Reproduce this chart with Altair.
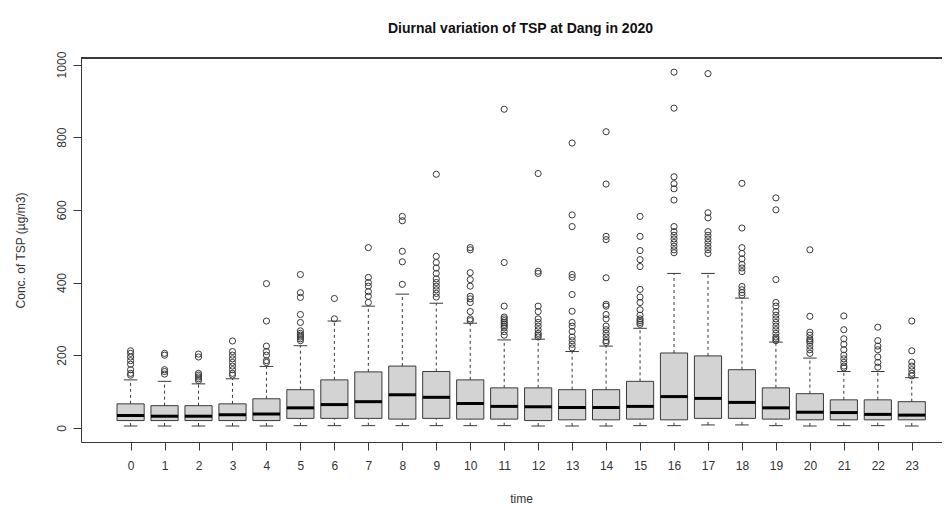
import altair as alt
import pandas as pd

hours = list(range(24))
lower = [5, 5, 5, 5, 5, 6, 6, 6, 6, 6, 6, 6, 5, 5, 5, 6, 6, 8, 8, 6, 5, 6, 6, 5]
q1 = [20, 20, 20, 20, 20, 26, 26, 26, 24, 26, 24, 24, 20, 22, 22, 24, 22, 26, 26, 24, 22, 22, 22, 22]
median = [34, 32, 32, 36, 38, 55, 64, 72, 91, 84, 67, 59, 58, 56, 56, 59, 86, 81, 70, 55, 43, 42, 37, 35]
q3 = [66, 61, 61, 66, 80, 105, 132, 154, 170, 155, 132, 110, 110, 105, 105, 128, 206, 198, 160, 110, 94, 77, 77, 72]
upper = [132, 128, 121, 135, 169, 226, 294, 335, 368, 343, 288, 242, 244, 210, 225, 274, 425, 425, 357, 236, 192, 155, 155, 138]

outliers = [
    [145, 150, 160, 175, 185, 195, 205, 212],
    [148, 155, 160, 200, 205],
    [130, 135, 140, 145, 150, 195, 203],
    [145, 150, 160, 170, 180, 190, 200, 210, 239],
    [180, 185, 200, 210, 225, 294, 397],
    [240, 245, 250, 255, 260, 267, 290, 312, 359, 372, 422],
    [300, 356],
    [345, 362, 375, 390, 400, 414, 496],
    [395, 457, 486, 570, 582],
    [360, 370, 380, 390, 400, 410, 425, 440, 455, 472, 698],
    [295, 300, 320, 345, 355, 362, 390, 408, 427, 490, 496],
    [255, 265, 275, 280, 285, 290, 295, 300, 305, 335, 455, 877],
    [250, 255, 260, 270, 280, 290, 300, 320, 335, 425, 431, 700],
    [220, 230, 240, 250, 265, 280, 290, 321, 367, 414, 422, 554, 586, 784],
    [235, 240, 250, 260, 270, 280, 300, 312, 335, 340, 413, 518, 527, 671, 815],
    [285, 290, 295, 300, 310, 325, 345, 360, 381, 444, 463, 488, 527, 582],
    [482, 490, 500, 510, 520, 530, 540, 554, 627, 658, 672, 691, 880, 979],
    [480, 490, 500, 510, 520, 530, 540, 578, 592, 975],
    [365, 372, 380, 389, 430, 440, 450, 465, 480, 496, 550, 673],
    [240, 245, 250, 260, 270, 280, 290, 300, 310, 320, 335, 345, 408, 600, 633],
    [205, 215, 225, 235, 240, 245, 255, 263, 307, 490],
    [165, 170, 180, 190, 200, 215, 230, 245, 270, 308],
    [167, 180, 195, 215, 225, 240, 277],
    [143, 150, 160, 170, 181, 212, 294],
]

y_ticks = [0, 200, 400, 600, 800, 1000]

box_df = pd.DataFrame({"hour": hours, "lower": lower, "q1": q1, "median": median,
                       "q3": q3, "upper": upper})
out_df = pd.DataFrame([{"hour": h, "value": v} for h, vals in zip(hours, outliers) for v in vals])

FONT = "Liberation Sans"
LINE = "#3a3a3a"
TEXT = "#333333"
W, H = 861, 384

x_scale = alt.Scale(domain=[-1.46, 23.89], nice=False, zero=False)
y_scale = alt.Scale(domain=[-39, 1018], nice=False, zero=False)

x_axis = alt.Axis(values=hours, title="time", grid=False, tickSize=8, labelAngle=0,
                  labelPadding=10, labelFontSize=12, labelFont=FONT, labelColor=TEXT,
                  titleFont=FONT, titleFontSize=12, titleFontWeight="normal", titleColor=TEXT,
                  titleX=440, titleY=56, titleAlign="center", titleBaseline="middle",
                  domainColor=LINE, tickColor=LINE, labelFlush=False)
y_axis = alt.Axis(values=y_ticks, format="d", title="Conc. of TSP (µg/m3)", grid=False,
                  tickSize=8, labelAngle=270, labelAlign="center", labelBaseline="bottom",
                  labelPadding=5, labelFontSize=12, labelFont=FONT, labelColor=TEXT,
                  labelFlush=False,
                  titleFont=FONT, titleFontSize=12, titleFontWeight="normal", titleColor=TEXT,
                  titleX=-61, titleY=192, titleAngle=270, titleAlign="center",
                  titleBaseline="middle", domainColor=LINE, tickColor=LINE)

base = alt.Chart(box_df).transform_calculate(
    xlo="datum.hour - 0.4", xhi="datum.hour + 0.4",
    clo="datum.hour - 0.2", chi="datum.hour + 0.2")

whisk_hi = base.mark_rule(color=LINE, strokeDash=[3, 3], strokeWidth=1).encode(
    x=alt.X("hour:Q", scale=x_scale, axis=x_axis),
    y=alt.Y("q3:Q", scale=y_scale, axis=y_axis), y2="upper:Q")
whisk_lo = base.mark_rule(color=LINE, strokeDash=[3, 3], strokeWidth=1).encode(
    x=alt.X("hour:Q", scale=x_scale, axis=x_axis),
    y=alt.Y("lower:Q", scale=y_scale, axis=y_axis), y2="q1:Q")
cap_hi = base.mark_rule(color=LINE, strokeWidth=1).encode(
    x=alt.X("clo:Q", scale=x_scale, axis=x_axis), x2="chi:Q",
    y=alt.Y("upper:Q", scale=y_scale, axis=y_axis))
cap_lo = base.mark_rule(color=LINE, strokeWidth=1).encode(
    x=alt.X("clo:Q", scale=x_scale, axis=x_axis), x2="chi:Q",
    y=alt.Y("lower:Q", scale=y_scale, axis=y_axis))
boxes = base.mark_rect(fill="#d3d3d3", stroke=LINE, strokeWidth=1).encode(
    x=alt.X("xlo:Q", scale=x_scale, axis=x_axis), x2="xhi:Q",
    y=alt.Y("q1:Q", scale=y_scale, axis=y_axis), y2="q3:Q")
meds = base.mark_rule(color="#000000", strokeWidth=3).encode(
    x=alt.X("xlo:Q", scale=x_scale, axis=x_axis), x2="xhi:Q",
    y=alt.Y("median:Q", scale=y_scale, axis=y_axis))
pts = alt.Chart(out_df).mark_point(shape="circle", filled=False, size=38,
                                   stroke=LINE, strokeWidth=1, opacity=1).encode(
    x=alt.X("hour:Q", scale=x_scale, axis=x_axis),
    y=alt.Y("value:Q", scale=y_scale, axis=y_axis))
top_line = alt.Chart(box_df).mark_rule(color=LINE, strokeWidth=1).encode(
    x=alt.value(0), x2=alt.value(W), y=alt.value(0))

chart = alt.layer(whisk_hi, whisk_lo, cap_hi, cap_lo, boxes, meds, pts, top_line).properties(
    width=W, height=H,
    title=alt.Title("Diurnal variation of TSP at Dang in 2020", font=FONT, fontSize=14,
                    fontWeight="bold", color="#111111", anchor="middle", dx=9, offset=15),
    autosize=alt.AutoSizeParams(type="none"),
    padding={"left": 73, "top": 50, "right": 0, "bottom": 64},
).configure_view(stroke=None).configure(background="white")

chart.save("out.html", embed_options={"renderer": "svg", "actions": False})
